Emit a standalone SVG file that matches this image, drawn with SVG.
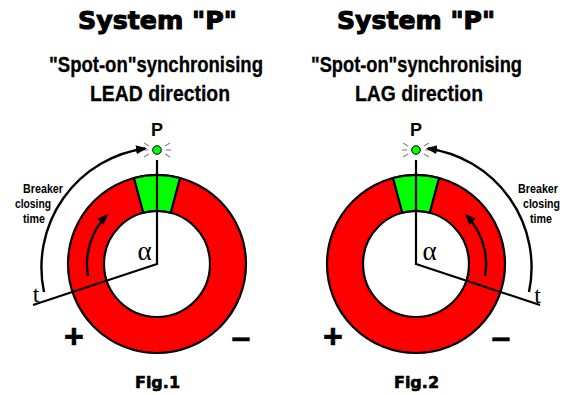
<svg xmlns="http://www.w3.org/2000/svg" width="573" height="395" viewBox="0 0 573 395">
<style>
.title{font-family:"DejaVu Sans",sans-serif;font-weight:bold;font-size:24px;fill:#000;stroke:#000;stroke-width:1;text-anchor:middle}
.sub{font-family:"Liberation Sans",Arial,sans-serif;font-weight:bold;font-size:22px;fill:#000;stroke:#000;stroke-width:0.3;text-anchor:middle}
.small{font-family:"Liberation Sans",Arial,sans-serif;font-weight:bold;font-size:12px;fill:#000;text-anchor:middle}
.p{font-family:"Liberation Sans",Arial,sans-serif;font-weight:bold;font-size:18px;fill:#000;text-anchor:middle}
.serif{font-family:"Liberation Serif","Times New Roman",serif;fill:#000;text-anchor:middle}
.sign{font-family:"Liberation Sans",Arial,sans-serif;font-weight:bold;font-size:34px;fill:#000;stroke:#000;stroke-width:0.6;text-anchor:middle}
.fig{font-family:"DejaVu Sans",sans-serif;font-weight:bold;font-size:16px;fill:#000;stroke:#000;stroke-width:0.6;text-anchor:middle}
.outer{fill:#ff0000;stroke:#000;stroke-width:2.2}
.inner{fill:#fff;stroke:#000;stroke-width:2.2}
.green{fill:#00ff00;stroke:#000;stroke-width:2.2;stroke-linejoin:miter}
.line{fill:none;stroke:#000;stroke-width:2.2}
.arc{fill:none;stroke:#000;stroke-width:2.4}
.ray{stroke:#8a8a8a;stroke-width:1.2}
.dot{fill:#00ff00;stroke:#000;stroke-width:1}
</style>
<defs>
<marker id="ah" markerUnits="userSpaceOnUse" markerWidth="12" markerHeight="10" refX="9" refY="4.5" orient="auto">
<path d="M0,0 L11,4.5 L0,9 z" fill="#000"/>
</marker>
</defs>

<g id="fig1">
<g id="title1">
<text class="title" x="157.5" y="29" textLength="159" lengthAdjust="spacingAndGlyphs">System "P"</text>
<text class="sub" x="156" y="72" textLength="214" lengthAdjust="spacingAndGlyphs">"Spot-on"synchronising</text>
<text class="sub" x="160" y="101" textLength="140" lengthAdjust="spacingAndGlyphs">LEAD direction</text>
</g>
<g id="ring1">
<circle class="outer" cx="157" cy="264" r="89"/>
<circle class="inner" cx="157" cy="264" r="53"/>
<path class="green" d="M133.96,178.03 A89,89 0 0 1 180.04,178.03 L170.72,212.81 A53,53 0 0 0 143.28,212.81 Z"/>
</g>
<g id="light1">
<text class="p" x="157" y="136">P</text>
<line class="ray" x1="143" y1="150" x2="148" y2="150"/>
<line class="ray" x1="144" y1="143" x2="149" y2="146"/>
<line class="ray" x1="144" y1="157" x2="149" y2="154"/>
<line class="ray" x1="166" y1="150" x2="171" y2="150"/>
<line class="ray" x1="165" y1="146" x2="170" y2="143"/>
<line class="ray" x1="165" y1="154" x2="170" y2="157"/>
<circle class="dot" cx="157" cy="150" r="4.3"/>
</g>
<g id="labels1">
<text class="small" x="43" y="193" textLength="40" lengthAdjust="spacingAndGlyphs">Breaker</text>
<text class="small" x="33" y="208" textLength="36" lengthAdjust="spacingAndGlyphs">closing</text>
<text class="small" x="34" y="223" textLength="22" lengthAdjust="spacingAndGlyphs">time</text>
<text class="serif" x="144.5" y="260" font-size="27">α</text>
<text class="serif" x="36" y="302" font-size="24">t</text>
<text class="sign" x="74" y="348">+</text>
<text class="sign" x="241" y="348">–</text>
<text class="fig" x="157.5" y="388">Fig.1</text>
</g>
</g>

<g id="fig2">
<g id="title2">
<text class="title" x="416" y="29" textLength="158" lengthAdjust="spacingAndGlyphs">System "P"</text>
<text class="sub" x="416.5" y="72" textLength="211" lengthAdjust="spacingAndGlyphs">"Spot-on"synchronising</text>
<text class="sub" x="419" y="101" textLength="128" lengthAdjust="spacingAndGlyphs">LAG direction</text>
</g>
<g id="ring2">
<circle class="outer" cx="416" cy="264" r="89"/>
<circle class="inner" cx="416" cy="264" r="53"/>
<path class="green" d="M392.96,178.03 A89,89 0 0 1 439.04,178.03 L429.72,212.81 A53,53 0 0 0 402.28,212.81 Z"/>
</g>
<g id="light2">
<text class="p" x="416" y="136">P</text>
<line class="ray" x1="402" y1="150" x2="407" y2="150"/>
<line class="ray" x1="403" y1="143" x2="408" y2="146"/>
<line class="ray" x1="403" y1="157" x2="408" y2="154"/>
<line class="ray" x1="425" y1="150" x2="430" y2="150"/>
<line class="ray" x1="424" y1="146" x2="429" y2="143"/>
<line class="ray" x1="424" y1="154" x2="429" y2="157"/>
<circle class="dot" cx="416" cy="150" r="4.3"/>
</g>
<g id="labels2">
<text class="small" x="538" y="193" textLength="40" lengthAdjust="spacingAndGlyphs">Breaker</text>
<text class="small" x="541.5" y="208" textLength="37" lengthAdjust="spacingAndGlyphs">closing</text>
<text class="small" x="541" y="223" textLength="22" lengthAdjust="spacingAndGlyphs">time</text>
<text class="serif" x="429.5" y="260" font-size="27">α</text>
<text class="serif" x="537.5" y="303" font-size="24">t</text>
<text class="sign" x="333" y="348">+</text>
<text class="sign" x="501" y="348">–</text>
<text class="fig" x="416.5" y="388">Fig.2</text>
</g>
</g>

<g id="connectors">
<path class="line" d="M157,160 L157,264 L33,305"/>
<path class="arc" d="M44,292 A120,120 0 0 1 145,148.5" marker-end="url(#ah)"/>
<path class="arc" d="M88,276 A70,70 0 0 1 106.5,215.5" marker-end="url(#ah)"/>
<path class="line" d="M416,160 L416,264 L540,305"/>
<path class="arc" d="M529,292 A120,120 0 0 0 428,148.5" marker-end="url(#ah)"/>
<path class="arc" d="M485,276 A70,70 0 0 0 466.5,215.5" marker-end="url(#ah)"/>
</g>
</svg>
